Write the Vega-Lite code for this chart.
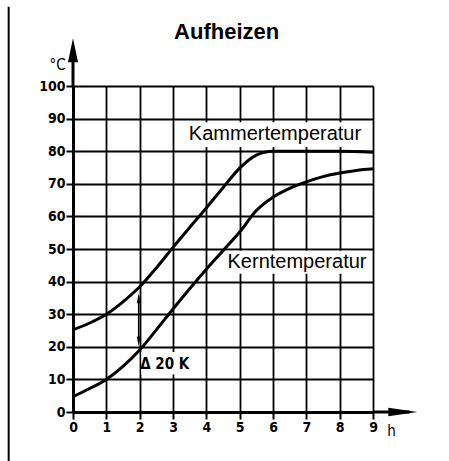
{
  "$schema": "https://vega.github.io/schema/vega-lite/v6.json",
  "width": 300,
  "height": 326,
  "autosize": {"type": "none"},
  "padding": {"left": 73, "top": 86, "right": 76, "bottom": 49},
  "background": "white",
  "config": {
    "view": {"stroke": null},
    "axis": {
      "grid": true, "gridColor": "black", "gridWidth": 1.8, "gridOpacity": 1,
      "domainColor": "black", "domainWidth": 3,
      "tickColor": "black", "tickWidth": 2, "tickSize": 7,
      "labelFont": "DejaVu Sans Condensed", "labelFontSize": 14, "labelFontWeight": "bold", "labelColor": "black",
      "labelPadding": 1, "labelFlush": false, "labelOverlap": false,
      "titleFont": "DejaVu Sans Condensed", "titleFontSize": 15, "titleFontWeight": "normal", "titleColor": "black"
    }
  },
  "datasets": {
    "curves": [
      {"h": 0, "temp": 25.2, "series": "Kammertemperatur"},
      {"h": 0.5, "temp": 27.3, "series": "Kammertemperatur"},
      {"h": 1, "temp": 30, "series": "Kammertemperatur"},
      {"h": 1.5, "temp": 33.8, "series": "Kammertemperatur"},
      {"h": 2, "temp": 38.4, "series": "Kammertemperatur"},
      {"h": 2.5, "temp": 44.2, "series": "Kammertemperatur"},
      {"h": 3, "temp": 50.5, "series": "Kammertemperatur"},
      {"h": 3.5, "temp": 56.6, "series": "Kammertemperatur"},
      {"h": 4, "temp": 62.6, "series": "Kammertemperatur"},
      {"h": 4.5, "temp": 68.8, "series": "Kammertemperatur"},
      {"h": 5, "temp": 74.8, "series": "Kammertemperatur"},
      {"h": 5.5, "temp": 78.8, "series": "Kammertemperatur"},
      {"h": 6, "temp": 80, "series": "Kammertemperatur"},
      {"h": 7, "temp": 80, "series": "Kammertemperatur"},
      {"h": 8, "temp": 80, "series": "Kammertemperatur"},
      {"h": 9, "temp": 79.7, "series": "Kammertemperatur"},
      {"h": 0, "temp": 4.7, "series": "Kerntemperatur"},
      {"h": 0.5, "temp": 7.2, "series": "Kerntemperatur"},
      {"h": 1, "temp": 10, "series": "Kerntemperatur"},
      {"h": 1.5, "temp": 14, "series": "Kerntemperatur"},
      {"h": 2, "temp": 19, "series": "Kerntemperatur"},
      {"h": 2.5, "temp": 25.2, "series": "Kerntemperatur"},
      {"h": 3, "temp": 31.6, "series": "Kerntemperatur"},
      {"h": 3.5, "temp": 37.8, "series": "Kerntemperatur"},
      {"h": 4, "temp": 43.8, "series": "Kerntemperatur"},
      {"h": 4.5, "temp": 49.5, "series": "Kerntemperatur"},
      {"h": 5, "temp": 55.2, "series": "Kerntemperatur"},
      {"h": 5.5, "temp": 61.8, "series": "Kerntemperatur"},
      {"h": 6, "temp": 65.9, "series": "Kerntemperatur"},
      {"h": 6.5, "temp": 68.6, "series": "Kerntemperatur"},
      {"h": 7, "temp": 70.6, "series": "Kerntemperatur"},
      {"h": 7.5, "temp": 72.2, "series": "Kerntemperatur"},
      {"h": 8, "temp": 73.3, "series": "Kerntemperatur"},
      {"h": 8.5, "temp": 74.1, "series": "Kerntemperatur"},
      {"h": 9, "temp": 74.6, "series": "Kerntemperatur"}
    ],
    "boxes": [
      {"h": 3.3, "h2": 8.8, "temp": 81.3, "temp2": 88.9},
      {"h": 4.62, "h2": 8.86, "temp": 42.4, "temp2": 49.5},
      {"h": 2.05, "h2": 3.5, "temp": 11.5, "temp2": 18.4}
    ],
    "labels": [
      {"h": 6.06, "temp": 85.2, "label": "Kammertemperatur"},
      {"h": 6.72, "temp": 46.0, "label": "Kerntemperatur"}
    ]
  },
  "encoding": {
    "x": {"field": "h", "type": "quantitative", "scale": {"domain": [0, 9], "nice": false},
          "axis": {"values": [0, 1, 2, 3, 4, 5, 6, 7, 8, 9], "title": "h", "titleX": 318, "titleY": 18, "titleBaseline": "middle", "titleAlign": "center"}},
    "y": {"field": "temp", "type": "quantitative", "scale": {"domain": [0, 100], "nice": false},
          "axis": {"values": [0, 10, 20, 30, 40, 50, 60, 70, 80, 90, 100], "title": "°C", "titleAngle": 0, "titleX": -16, "titleY": -22, "titleBaseline": "middle", "titleAlign": "center"}}
  },
  "layer": [
    {
      "data": {"values": [{"h": -1.93, "temp": 124.3, "temp2": -15.3}]},
      "mark": {"type": "rule", "color": "black", "strokeWidth": 2},
      "encoding": {"y2": {"field": "temp2"}}
    },
    {
      "data": {"values": [{"h": 0, "temp": 100, "temp2": 112}]},
      "mark": {"type": "rule", "color": "black", "strokeWidth": 3},
      "encoding": {"y2": {"field": "temp2"}}
    },
    {
      "data": {"values": [{"h": 0, "temp": 111}]},
      "mark": {"type": "point", "shape": "M0,-1L0.42,1L-0.42,1Z", "size": 576, "filled": true, "color": "black", "opacity": 1},
      "encoding": {}
    },
    {
      "data": {"values": [{"h": 9, "h2": 10.1, "temp": 0}]},
      "mark": {"type": "rule", "color": "black", "strokeWidth": 3},
      "encoding": {"x2": {"field": "h2"}}
    },
    {
      "data": {"values": [{"h": 9.895, "temp": 0}]},
      "mark": {"type": "point", "shape": "M1,0L-1,-0.3L-1,0.3Z", "size": 841, "filled": true, "color": "black", "opacity": 1},
      "encoding": {}
    },
    {
      "data": {"name": "boxes"},
      "mark": {"type": "rect", "fill": "white"},
      "encoding": {"x2": {"field": "h2"}, "y2": {"field": "temp2"}}
    },
    {
      "data": {"name": "curves"},
      "mark": {"type": "line", "interpolate": "monotone", "color": "black", "strokeWidth": 3},
      "encoding": {"detail": {"field": "series"}}
    },
    {
      "data": {"values": [{"h": 1.97, "temp": 21.5, "temp2": 35.5}]},
      "mark": {"type": "rule", "color": "black", "strokeWidth": 1.5},
      "encoding": {"y2": {"field": "temp2"}}
    },
    {
      "data": {"values": [{"h": 1.97, "temp": 34.9}]},
      "mark": {"type": "point", "shape": "M0,-1L0.35,1L-0.35,1Z", "size": 100, "filled": true, "color": "black", "opacity": 1},
      "encoding": {}
    },
    {
      "data": {"values": [{"h": 1.97, "temp": 21.6}]},
      "mark": {"type": "point", "shape": "M0,1L0.35,-1L-0.35,-1Z", "size": 100, "filled": true, "color": "black", "opacity": 1},
      "encoding": {}
    },
    {
      "data": {"name": "labels"},
      "mark": {"type": "text", "font": "Liberation Sans", "fontSize": 20, "color": "black", "align": "center", "baseline": "middle"},
      "encoding": {"text": {"field": "label"}}
    },
    {
      "data": {"values": [{"h": 2.75, "temp": 14.8, "label": "Δ 20 K"}]},
      "mark": {"type": "text", "font": "DejaVu Sans Condensed", "fontSize": 15, "fontWeight": "bold", "color": "black", "align": "center", "baseline": "middle"},
      "encoding": {"text": {"field": "label"}}
    },
    {
      "data": {"values": [{"h": 4.61, "temp": 116.6, "label": "Aufheizen"}]},
      "mark": {"type": "text", "font": "Liberation Sans", "fontSize": 22, "fontWeight": "bold", "color": "black", "align": "center", "baseline": "middle"},
      "encoding": {"text": {"field": "label"}}
    }
  ]
}
